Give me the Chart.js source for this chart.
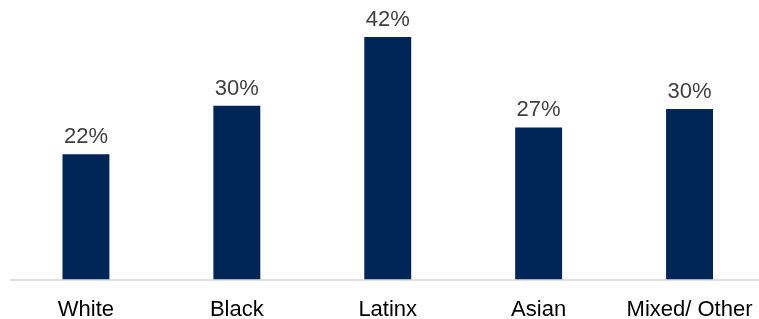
<!DOCTYPE html>
<html>
<head>
<meta charset="utf-8">
<script src="https://cdn.jsdelivr.net/npm/chart.js@4/dist/chart.umd.min.js"></script>
<style>
    html, body { margin: 0; padding: 0; background: #fff; overflow: hidden; }
    #wrap { width: 770px; height: 319px; }
</style>
</head>
<body>
<div id="wrap"><canvas id="chart" width="770" height="319"></canvas></div>
<script>
const categories = ['White', 'Black', 'Latinx', 'Asian', 'Mixed/ Other'];
const shares = [21.9, 30.4, 42.4, 26.6, 29.8];
const shareLabels = ['22%', '30%', '42%', '27%', '30%'];

const barColor = '#002557';
const fontFamily = '"Liberation Sans", Arial, sans-serif';

// value labels above each bar
const valueLabels = {
    id: 'valueLabels',
    afterDatasetsDraw: (chart) => {
        const { ctx } = chart;
        const meta = chart.getDatasetMeta(0);
        ctx.save();
        ctx.font = '22px ' + fontFamily;
        ctx.fillStyle = '#404040';
        ctx.textAlign = 'center';
        ctx.textBaseline = 'alphabetic';
        meta.data.forEach((bar, i) => {
            ctx.fillText(shareLabels[i], bar.x, bar.y - 11);
        });
        ctx.restore();
    },
};

new Chart(document.getElementById('chart').getContext('2d'), {
    type: 'bar',
    data: {
        labels: categories,
        datasets: [
            {
                data: shares,
                backgroundColor: barColor,
                barPercentage: 0.311,
                categoryPercentage: 1,
            },
        ],
    },
    options: {
        responsive: false,
        animation: false,
        layout: { padding: { top: 5, left: 10.5, right: 5, bottom: -21 } },
        plugins: {
            legend: { display: false },
            tooltip: { enabled: false },
        },
        scales: {
            x: {
                grid: { display: false, drawTicks: false },
                border: { color: '#e0e0e0', width: 2 },
                ticks: {
                    color: '#000',
                    padding: 17,
                    font: { family: fontFamily, size: 22 },
                    maxRotation: 0,
                    autoSkip: false,
                },
            },
            y: {
                display: false,
                min: 0,
                max: 48,
            },
        },
    },
    plugins: [valueLabels],
});
</script>
</body>
</html>
